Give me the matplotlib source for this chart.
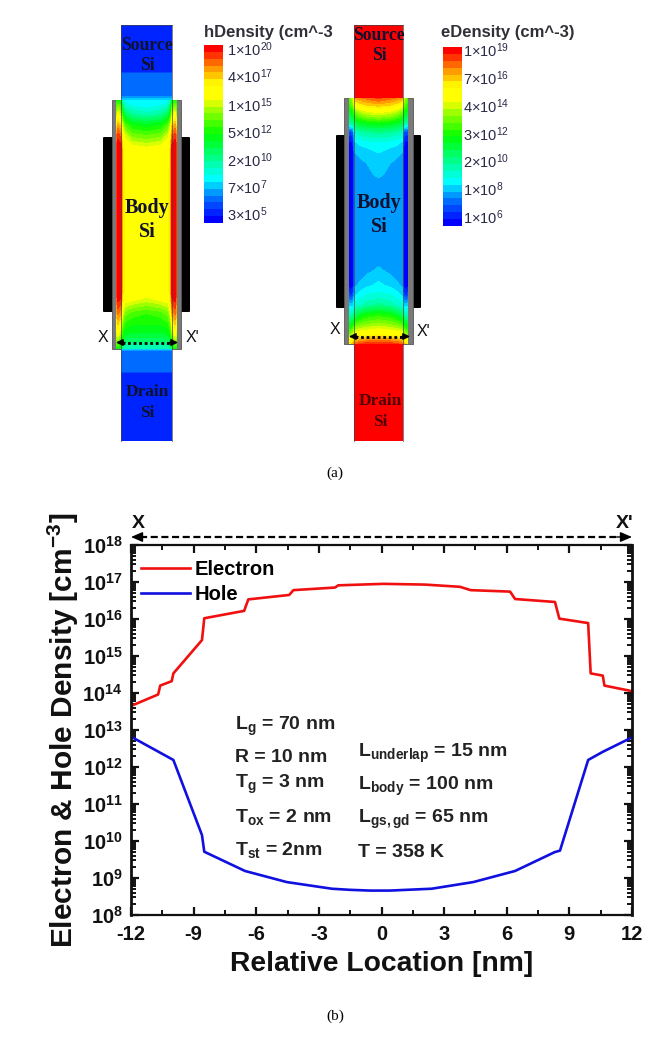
import numpy as np
import matplotlib
matplotlib.use('Agg')
import matplotlib.pyplot as plt
from matplotlib.colors import LinearSegmentedColormap, ListedColormap
from matplotlib.patches import Rectangle, FancyBboxPatch
from matplotlib.ticker import FixedLocator, NullFormatter

plt.rcParams['font.family'] = ['Liberation Sans', 'DejaVu Sans']
plt.rcParams['mathtext.fontset'] = 'custom'
plt.rcParams['mathtext.rm'] = 'Liberation Sans'
plt.rcParams['mathtext.it'] = 'Liberation Sans'
plt.rcParams['mathtext.bf'] = 'Liberation Sans:bold'

# panel (b) curves (log10 of density)
electron_x = [-12, -10.7, -10.6, -10.05, -9.97, -8.6, -8.49, -6.58, -6.38, -4.42, -4.22, -2.23, -2.07,
              0.09, 2.08, 3.76, 4.27, 6.16, 6.4, 8.31, 8.52, 9.9, 10.02, 10.6, 10.68, 12]
electron_log = [13.65, 13.96, 14.2, 14.32, 14.53, 15.43, 16.02, 16.22, 16.53, 16.65, 16.78, 16.85, 16.91,
                16.95, 16.93, 16.87, 16.78, 16.74, 16.54, 16.46, 16.01, 15.89, 14.53, 14.47, 14.2, 14.05]
hole_x = [-12, -9.97, -8.6, -8.49, -6.54, -4.54, -2.38, -1.5, -0.55, 0.4, 2.4, 4.4, 6.4, 8.3, 8.55, 9.9, 10.6, 12]
hole_log = [12.82, 12.19, 10.16, 9.71, 9.19, 8.89, 8.71, 8.68, 8.66, 8.66, 8.71, 8.89, 9.19, 9.70, 9.74, 12.19, 12.41, 12.8]

x_ticks = [-12, -9, -6, -3, 0, 3, 6, 9, 12]
y_exponents = [8, 9, 10, 11, 12, 13, 14, 15, 16, 17, 18]

left_params = ['L$_{\\mathbf{g}}$ = 70 nm', 'R = 10 nm', 'T$_{\\mathbf{g}}$ = 3 nm',
               'T$_{\\mathbf{ox}}$ = 2 nm', 'T$_{\\mathbf{st}}$ = 2nm']
left_params_y = [730, 762, 788, 822, 855]
right_params = ['L$_{\\mathbf{underlap}}$ = 15 nm', 'L$_{\\mathbf{body}}$ = 100 nm',
                'L$_{\\mathbf{gs,gd}}$ = 65 nm', 'T = 358 K']
right_params_y = [757, 790, 823, 857]

# panel (a) colour bars
h_bar_labels = ['1×10$^{20}$', '4×10$^{17}$', '1×10$^{15}$', '5×10$^{12}$', '2×10$^{10}$', '7×10$^{7}$', '3×10$^{5}$']
h_bar_y = [50, 77, 106, 133, 161, 188, 215]
e_bar_labels = ['1×10$^{19}$', '7×10$^{16}$', '4×10$^{14}$', '3×10$^{12}$', '2×10$^{10}$', '1×10$^{8}$', '1×10$^{6}$']
e_bar_y = [51, 79, 107, 135, 162, 190, 218]

# colour map position across half of each device body, edge to centre
h_cols = [116, 118, 121, 122.5, 125, 132, 146.5]
h_rows = [100, 106, 115, 125, 136, 150, 180, 290, 300, 313, 325, 335, 349]
h_body = [[.50, .50, .45, .28, .25, .24, .24],
          [.55, .60, .55, .40, .30, .27, .25],
          [.60, .72, .65, .50, .42, .36, .33],
          [.72, .85, .80, .65, .56, .50, .47],
          [.85, .95, .90, .74, .68, .60, .58],
          [.90, 1.0, 1.0, .78, .75, .74, .72],
          [.90, 1.0, 1.0, .80, .76, .75, .75],
          [.90, 1.0, 1.0, .80, .76, .75, .75],
          [.85, .97, .95, .75, .72, .70, .67],
          [.80, .90, .85, .68, .60, .56, .54],
          [.72, .80, .72, .58, .52, .50, .50],
          [.65, .70, .60, .50, .46, .45, .45],
          [.50, .50, .40, .35, .30, .30, .30]]

e_cols = [349, 351, 353.5, 354.5, 360, 367, 378.5]
e_rows = [98, 105, 110, 117, 123, 132, 143, 153, 165, 175, 185, 257, 270, 285, 295, 305, 315, 325, 335, 344]
e_body = [[.55, .60, .70, .85, .88, .90, .93],
          [.50, .55, .60, .72, .78, .81, .83],
          [.46, .50, .52, .62, .68, .71, .74],
          [.40, .42, .44, .52, .56, .60, .62],
          [.33, .34, .35, .42, .46, .48, .50],
          [.10, .08, .12, .30, .33, .35, .36],
          [.03, .02, .05, .22, .24, .25, .26],
          [.02, .01, .03, .19, .20, .21, .23],
          [.02, .01, .02, .17, .18, .19, .22],
          [.02, .01, .02, .17, .17, .18, .20],
          [.02, .01, .02, .17, .17, .17, .17],
          [.02, .01, .02, .17, .17, .17, .17],
          [.02, .01, .02, .17, .17, .18, .20],
          [.02, .01, .03, .18, .20, .22, .24],
          [.10, .06, .10, .22, .25, .27, .28],
          [.22, .20, .22, .28, .30, .33, .36],
          [.32, .32, .34, .40, .45, .50, .52],
          [.46, .48, .50, .56, .60, .62, .64],
          [.60, .62, .68, .73, .75, .76, .78],
          [.80, .80, .85, .90, .93, .95, .96]]

# hole density in the source and drain columns, top to bottom
h_source_y = [25, 71, 73, 92, 97, 100]
h_source_v = [.06, .06, .12, .12, .16, .24]
h_drain_y = [349, 352, 372, 374, 441]
h_drain_v = [.24, .12, .12, .06, .06]

anchors = [(0, (0, 0, 255)), (.12, (0, 110, 255)), (.24, (0, 255, 255)), (.5, (0, 255, 0)),
           (.65, (170, 255, 0)), (.71, (255, 255, 0)), (.79, (255, 255, 0)), (.88, (255, 160, 0)), (1, (255, 0, 0))]
smooth = LinearSegmentedColormap.from_list('tcad', [(p, tuple(c / 255 for c in col)) for p, col in anchors])
levels = np.linspace(0, 1, 27)
tcad = ListedColormap(smooth(np.linspace(0, 1, 26)))


def draw_body(ax, cols, rows, half):
    half = np.array(half)
    cols = np.array(cols)
    xs = np.concatenate([cols, 2 * cols[-1] - cols[-2::-1]])
    zs = np.hstack([half, half[:, -2::-1]])
    ax.contourf(xs, rows, zs, levels=levels, cmap=tcad, vmin=0, vmax=1, zorder=3)


def draw_column(ax, left, right, rows, values):
    zs = np.array([values, values]).T
    ax.contourf([left, right], rows, zs, levels=levels, cmap=tcad, vmin=0, vmax=1, zorder=2)


def draw_frame(ax, col_l, col_r, ox_l, ox_r, ox_t, ox_b, gate_l, gate_r, gate_t, gate_b, bar_w):
    # oxide shell, gates and the thin lines along the silicon edges
    ax.add_patch(Rectangle((ox_l, ox_t), ox_r - ox_l, ox_b - ox_t, fc='#7a7a7a', ec='#555555', lw=0.6, zorder=1))
    for x0 in (gate_l, gate_r - bar_w):
        ax.add_patch(FancyBboxPatch((x0 + 1, gate_t + 1), bar_w - 2, gate_b - gate_t - 2,
                                    boxstyle='round,pad=1', fc='black', ec='black', lw=0, zorder=0))
    for x0 in (col_l, col_r):
        ax.plot([x0, x0], [25, 441], color='#444444', lw=0.6, alpha=0.8, zorder=4)
    ax.plot([col_l, col_r], [25, 25], color='#444444', lw=0.5, zorder=4)


def draw_dotted(ax, x0, x1, y):
    ax.plot([x0 + 6, x1 - 6], [y, y], color='black', lw=2, ls=(0, (1, 1)), zorder=6)
    ax.annotate('', xy=(x0, y), xytext=(x0 + 9, y), arrowprops=dict(arrowstyle='-|>', color='black', lw=1, shrinkA=0, shrinkB=0), zorder=6)
    ax.annotate('', xy=(x1, y), xytext=(x1 - 9, y), arrowprops=dict(arrowstyle='-|>', color='black', lw=1, shrinkA=0, shrinkB=0), zorder=6)


fig = plt.figure(figsize=(6.71, 10.58), dpi=100)

# overlay in pixel units for the device sketches and free text
pix = fig.add_axes([0, 0, 1, 1])
pix.set_axis_off()

### (a) hole density device ###
draw_frame(pix, 121, 172, 112, 181, 100, 349, 103, 190, 137, 312, 10)
draw_column(pix, 121, 172, h_source_y, h_source_v)
draw_column(pix, 121, 172, h_drain_y, h_drain_v)
draw_body(pix, h_cols, h_rows, h_body)
draw_dotted(pix, 116, 178, 342.5)

### (a) electron density device ###
draw_frame(pix, 354, 403, 344, 413, 98, 344, 336, 421, 135, 308, 10)
pix.add_patch(Rectangle((354, 25), 49, 73, fc='#ff0000', ec='none', zorder=2))
pix.add_patch(Rectangle((354, 344), 49, 97, fc='#ff0000', ec='none', zorder=2))
draw_body(pix, e_cols, e_rows, e_body)
draw_dotted(pix, 349, 410, 336.5)

serif = ['Liberation Serif']
device_text = [('Source', 147, 45, 12.7), ('Si', 147, 66, 12.7), ('Body', 147, 208, 14.5), ('Si', 147, 232, 14.5),
               ('Drain', 147, 392, 12.5), ('Si', 147, 413, 12.5),
               ('Source', 379, 35, 12.7), ('Si', 379, 56, 12.7), ('Body', 379, 203, 14.5), ('Si', 379, 227, 14.5),
               ('Drain', 380, 401, 12.5), ('Si', 380, 422, 12.5)]
for s, x0, y0, size in device_text:
    pix.text(x0, y0, s, family=serif, weight='bold', fontsize=size, color='#101030' if x0 < 300 or y0 < 180 or 180 < y0 < 240 else '#500000',
             ha='center', va='center', zorder=7)

for s, x0, y0 in [('X', 103, 337), ("X'", 192, 337), ('X', 335, 330), ("X'", 423, 332)]:
    pix.text(x0, y0, s, fontsize=11.5, ha='center', va='center', color='#111111')

# colour bars
gradient = np.linspace(1, 0, 26)[:, None]
pix.imshow(gradient, extent=(203.5, 222.5, 223, 45), cmap=tcad, vmin=0, vmax=1, aspect='auto', interpolation='nearest')
pix.imshow(gradient, extent=(443, 462, 226.5, 47.5), cmap=tcad, vmin=0, vmax=1, aspect='auto', interpolation='nearest')
for s, y0 in zip(h_bar_labels, h_bar_y):
    pix.text(227, y0, s, fontsize=10.5, color='#2a2a48', va='center', ha='left')
for s, y0 in zip(e_bar_labels, e_bar_y):
    pix.text(463, y0, s, fontsize=10.5, color='#2a2a48', va='center', ha='left')
pix.text(204, 32, 'hDensity (cm^-3', fontsize=12, weight='bold', color='#303038', va='center', ha='left')
pix.text(441, 32, 'eDensity (cm^-3)', fontsize=12, weight='bold', color='#303038', va='center', ha='left')

pix.text(335, 473, '(a)', family=serif, fontsize=11, ha='center', va='center')
pix.text(335, 1016, '(b)', family=serif, fontsize=11, ha='center', va='center')

pix.set_xlim(0, 671)
pix.set_ylim(1058, 0)

### (b) density along X-X' ###
ax = fig.add_axes([131 / 671, 1 - 915 / 1058, 501 / 671, 370 / 1058])
ax.patch.set_alpha(0)
ax.plot(electron_x, 10.0 ** np.array(electron_log), color='#f01010', lw=1.9, label='Electron')
ax.plot(hole_x, 10.0 ** np.array(hole_log), color='#1010e0', lw=1.9, label='Hole')
ax.set_yscale('log')
ax.set_xlim(-12, 12)
ax.set_ylim(1e8, 1e18)

ax.set_xticks(x_ticks, [str(v) for v in x_ticks], fontsize=14.5, weight='bold')
ax.xaxis.set_minor_locator(FixedLocator(np.arange(-12, 12.5, 1.5)))
ax.set_yticks([10.0 ** e for e in y_exponents], ['$\\mathbf{10^{%d}}$' % e for e in y_exponents], fontsize=14.5)
ax.yaxis.set_minor_locator(matplotlib.ticker.LogLocator(base=10, subs=np.arange(2, 10), numticks=12))
ax.yaxis.set_minor_formatter(NullFormatter())
ax.tick_params(which='major', direction='in', top=True, right=True, length=6, width=1.6, colors='#111111')
ax.tick_params(which='minor', direction='in', top=True, right=True, length=3.5, width=1.4, colors='#111111')
ax.tick_params(axis='x', pad=7)
ax.tick_params(axis='y', pad=6)
for side in ax.spines:
    ax.spines[side].set_linewidth(2 if side in ('left', 'right') else 1.6)
    ax.spines[side].set_color('#111111')

ax.set_xlabel('Relative Location [nm]', fontsize=20.3, weight='bold', labelpad=5, color='#111111')
ax.set_ylabel('Electron & Hole Density [cm$^{\\mathbf{-3}}$]', fontsize=21.5, weight='bold', labelpad=1, color='#111111')

leg = ax.legend(loc='upper left', bbox_to_anchor=(-0.009, 0.998), frameon=False, handlelength=2.45,
                handletextpad=0.25, labelspacing=0.3, borderpad=0.2, prop={'size': 14.5, 'weight': 'bold'})

for s, y0 in zip(left_params, left_params_y):
    pix.text(235, y0, s, fontsize=14, weight='bold', color='#222222', va='baseline', ha='left')
for s, y0 in zip(right_params, right_params_y):
    pix.text(358, y0, s, fontsize=14, weight='bold', color='#222222', va='baseline', ha='left')

# dashed X to X' marker above the frame
pix.plot([140, 623], [537, 537], color='black', lw=1.6, ls=(0, (3.2, 1.6)))
for tip, tail in [(131, 146), (632, 617)]:
    pix.annotate('', xy=(tip, 537), xytext=(tail, 537),
                 arrowprops=dict(arrowstyle='-|>,head_length=0.7,head_width=0.3', color='black', lw=1, shrinkA=0, shrinkB=0))
pix.text(138, 523, 'X', fontsize=14, weight='bold', ha='center', va='center', color='#111111')
pix.text(625, 523, "X'", fontsize=14, weight='bold', ha='center', va='center', color='#111111')

pix.set_xlim(0, 671)
pix.set_ylim(1058, 0)

fig.savefig('out.png', dpi=100)
